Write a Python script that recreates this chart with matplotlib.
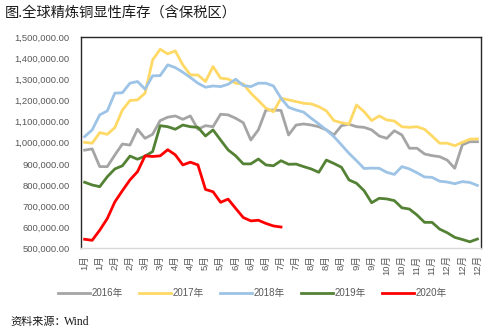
import matplotlib
matplotlib.use("Agg")
import matplotlib.pyplot as plt
from matplotlib.ticker import FuncFormatter

plt.rcParams['font.family'] = ['Liberation Sans', 'Noto Sans CJK SC', 'DejaVu Sans']

# weekly x categories, labelled every second week
week_labels = ['1月', '1月', '2月', '2月', '3月', '3月', '4月', '4月', '5月', '5月',
               '6月', '6月', '6月', '7月', '7月', '8月', '8月', '8月', '9月', '9月',
               '10月', '10月', '11月', '11月', '12月', '12月', '12月']

stock_2016 = [965000, 971000, 887000, 887000, 942000, 994000, 989000, 1064000, 1021000, 1040000,
              1105000, 1121000, 1127000, 1111000, 1127000, 1064000, 1081000, 1076000, 1135000, 1132000,
              1116000, 1095000, 1013000, 1061000, 1155000, 1155000, 1153000, 1037000, 1084000, 1089000,
              1084000, 1076000, 1061000, 1037000, 1081000, 1088000, 1076000, 1073000, 1061000, 1032000,
              1021000, 1057000, 1037000, 974000, 974000, 947000, 939000, 934000, 918000, 879000,
              990000, 1005000, 1005000]
stock_2017 = [1002000, 998000, 1048000, 1040000, 1072000, 1155000, 1200000, 1203000, 1235000, 1392000,
              1443000, 1421000, 1435000, 1369000, 1321000, 1321000, 1290000, 1361000, 1306000, 1302000,
              1282000, 1279000, 1235000, 1200000, 1164000, 1147000, 1211000, 1203000, 1195000, 1187000,
              1184000, 1171000, 1151000, 1105000, 1095000, 1088000, 1179000, 1147000, 1105000, 1127000,
              1108000, 1103000, 1076000, 1073000, 1076000, 1064000, 1032000, 998000, 998000, 986000,
              1002000, 1017000, 1018000]
stock_2018 = [1029000, 1061000, 1132000, 1151000, 1235000, 1237000, 1282000, 1290000, 1254000, 1317000,
              1318000, 1369000, 1356000, 1334000, 1309000, 1282000, 1263000, 1269000, 1266000, 1277000,
              1301000, 1271000, 1266000, 1282000, 1282000, 1269000, 1211000, 1168000, 1155000, 1145000,
              1116000, 1089000, 1061000, 1029000, 990000, 950000, 915000, 878000, 880000, 879000,
              860000, 850000, 887000, 876000, 858000, 838000, 836000, 818000, 814000, 806000,
              816000, 812000, 798000]
stock_2019 = [813000, 800000, 792000, 839000, 876000, 891000, 937000, 922000, 937000, 958000,
              1081000, 1076000, 1064000, 1084000, 1076000, 1073000, 1032000, 1061000, 1013000, 966000,
              938000, 900000, 900000, 923000, 895000, 891000, 915000, 898000, 899000, 887000,
              876000, 860000, 918000, 902000, 884000, 824000, 808000, 773000, 716000, 737000,
              734000, 726000, 692000, 686000, 658000, 623000, 623000, 591000, 574000, 552000,
              542000, 531000, 544000]
stock_2020 = [543000, 538000, 586000, 641000, 720000, 773000, 824000, 863000, 938000, 935000,
              938000, 967000, 943000, 895000, 908000, 895000, 779000, 768000, 718000, 733000,
              689000, 646000, 630000, 633000, 618000, 606000, 601000]

series = [
    ('2016年', stock_2016, '#a5a5a5'),
    ('2017年', stock_2017, '#ffd966'),
    ('2018年', stock_2018, '#9dc3e6'),
    ('2019年', stock_2019, '#548235'),
    ('2020年', stock_2020, '#ff0000'),
]

fig = plt.figure(figsize=(4.9, 3.32), dpi=100)
ax = fig.add_axes([0.165, 0.252, 0.817, 0.636])

for name, vals, color in series:
    ax.plot(range(len(vals)), vals, color=color, linewidth=2.0, label=name,
            solid_joinstyle='round')

ax.set_xlim(-0.5, 52.5)
ax.set_ylim(500000, 1500000)
ax.set_yticks(range(500000, 1500001, 100000))
ax.yaxis.set_major_formatter(FuncFormatter(lambda v, p: '{:,.2f}'.format(v)))
ax.set_xticks(range(0, 53, 2))
ax.set_xticklabels(week_labels, rotation=90)

ax.tick_params(axis='both', length=0, labelsize=6.8, colors='#595959')
ax.tick_params(axis='y', pad=8)
ax.tick_params(axis='x', pad=5)

for side in ['left', 'top', 'right']:
    ax.spines[side].set_color('#262626')
    ax.spines[side].set_linewidth(1.0)
ax.spines['bottom'].set_color('#d9d9d9')
ax.spines['bottom'].set_linewidth(1.0)

leg = fig.legend(loc='center', bbox_to_anchor=(0.515, 0.116), ncol=5, frameon=False,
                 fontsize=7, handlelength=3.3, handletextpad=0.2, columnspacing=1.6)
for t in leg.get_texts():
    t.set_color('#595959')

fig.text(0.01, 0.962, '图.全球精炼铜显性库存（含保税区）', fontsize=10.3,
         family=['Noto Sans CJK SC'], va='center', ha='left', color='#1a1a1a')
fig.text(0.022, 0.03, '资料来源：', fontsize=8, family=['Noto Sans CJK SC'],
         va='center', ha='left', color='#1a1a1a')
fig.text(0.13, 0.03, 'Wind', fontsize=8.5, family=['Liberation Serif'],
         va='center', ha='left', color='#1a1a1a')

fig.savefig('out.png', dpi=100, facecolor='white')
